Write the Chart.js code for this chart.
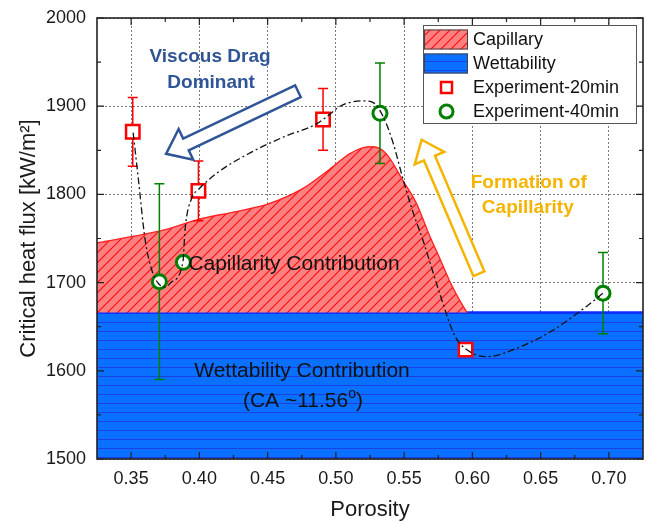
<!DOCTYPE html>
<html>
<head>
<meta charset="utf-8">
<script src="https://cdn.jsdelivr.net/npm/chart.js@4.4.0/dist/chart.umd.min.js"></script>
<style>
  html, body { margin: 0; padding: 0; background: #fff; }
</style>
</head>
<body>
<canvas id="chf" width="647" height="523"></canvas>
<script>
// axis ticks
const xTicks = [0.35, 0.40, 0.45, 0.50, 0.55, 0.60, 0.65, 0.70];
const yTicks = [1500, 1600, 1700, 1800, 1900, 2000];

// capillary contribution - upper edge of the hatched area (sits on the wettability level)
const capX = [0.325, 0.35, 0.375, 0.40, 0.425, 0.45, 0.475, 0.495, 0.51, 0.52, 0.527, 0.537, 0.549, 0.559, 0.569, 0.576, 0.583, 0.59, 0.596];
const capY = [1745, 1752, 1760, 1772, 1780, 1789, 1806, 1828, 1846, 1853, 1854, 1846, 1816, 1790, 1752, 1728, 1703, 1682, 1666];
const wetLevel = 1666;

// wettability contribution
const wetX = [0.325, 0.725];
const wetY = [1666, 1666];

// experiments
const exp20X = [0.3512, 0.3993, 0.4906, 0.595];
const exp20Y = [1871, 1804, 1885, 1624];
const exp20Err = [39, 34, 35, 4];

const exp40X = [0.3707, 0.3883, 0.5323, 0.6957];
const exp40Y = [1701, 1723, 1892, 1688];
const exp40Err = [111, 5, 57, 46];

// dash-dot guide curve
const fitX = [0.3515, 0.3554, 0.3603, 0.3652, 0.370, 0.3749, 0.3798, 0.388, 0.3895, 0.3944, 0.399, 0.4127, 0.4371, 0.4615, 0.4859, 0.4957, 0.503, 0.5127, 0.52, 0.5274, 0.5347, 0.542, 0.5494, 0.5567, 0.5638, 0.576, 0.587, 0.595, 0.6104, 0.6348, 0.659, 0.6836, 0.6957];
const fitY = [1870, 1816, 1748, 1714, 1699, 1695, 1701, 1724, 1760, 1796, 1805, 1824, 1847, 1865, 1880, 1891, 1900, 1905, 1906, 1904, 1888, 1858, 1816, 1779, 1748, 1688, 1640, 1625, 1616, 1627, 1646, 1673, 1688];

const FONT = "'Liberation Sans', Arial, sans-serif";
const BLUE_TXT = '#2F5597';
const ORANGE = '#F5B400';

const canvas = document.getElementById('chf');
const mainCtx = canvas.getContext('2d');

function pts(xs, ys) {
  return xs.map((x, i) => ({ x: x, y: ys[i] }));
}

function hatchPattern() {
  const c = document.createElement('canvas');
  c.width = 10; c.height = 10;
  const g = c.getContext('2d');
  g.fillStyle = '#ff8080';
  g.fillRect(0, 0, 10, 10);
  g.strokeStyle = '#ff0a0a';
  g.lineWidth = 1.1;
  g.beginPath();
  g.moveTo(-1, 11); g.lineTo(11, -1);
  g.moveTo(-1, 1); g.lineTo(1, -1);
  g.moveTo(9, 11); g.lineTo(11, 9);
  g.stroke();
  return mainCtx.createPattern(c, 'repeat');
}

function stripePattern() {
  const c = document.createElement('canvas');
  c.width = 4; c.height = 9;
  const g = c.getContext('2d');
  g.fillStyle = '#0a70ff';
  g.fillRect(0, 0, 4, 9);
  g.fillStyle = '#1c3fe6';
  g.fillRect(0, 7, 4, 1);
  return mainCtx.createPattern(c, 'repeat');
}

const redHatch = hatchPattern();
const blueStripe = stripePattern();

// error bars go under the markers
const errorBars = {
  id: 'errorBars',
  beforeDatasetDraw(chart, args) {
    const ds = chart.data.datasets[args.index];
    if (!ds.errors) return;
    const { ctx, scales: { x, y } } = chart;
    ctx.save();
    ctx.strokeStyle = ds.borderColor;
    ctx.lineWidth = 1.5;
    ds.data.forEach((p, i) => {
      const e = ds.errors[i];
      const px = x.getPixelForValue(p.x);
      const top = y.getPixelForValue(p.y + e);
      const bot = y.getPixelForValue(p.y - e);
      ctx.beginPath();
      ctx.moveTo(px, top); ctx.lineTo(px, bot);
      ctx.moveTo(px - 5, top); ctx.lineTo(px + 5, top);
      ctx.moveTo(px - 5, bot); ctx.lineTo(px + 5, bot);
      ctx.stroke();
    });
    ctx.restore();
  }
};

// frame with inward ticks on all four sides
const frame = {
  id: 'frame',
  afterDatasetsDraw(chart) {
    const { ctx, chartArea: a, scales: { x, y } } = chart;
    ctx.save();
    ctx.strokeStyle = '#222';
    ctx.lineWidth = 1.2;
    ctx.beginPath();
    const xMinor = xTicks.slice(0, -1).map(v => v + 0.025);
    const yMinor = yTicks.slice(0, -1).map(v => v + 50);
    xTicks.forEach(v => {
      const p = x.getPixelForValue(v);
      ctx.moveTo(p, a.bottom); ctx.lineTo(p, a.bottom - 7);
      ctx.moveTo(p, a.top); ctx.lineTo(p, a.top + 7);
    });
    xMinor.forEach(v => {
      const p = x.getPixelForValue(v);
      ctx.moveTo(p, a.bottom); ctx.lineTo(p, a.bottom - 4);
      ctx.moveTo(p, a.top); ctx.lineTo(p, a.top + 4);
    });
    yTicks.forEach(v => {
      const p = y.getPixelForValue(v);
      ctx.moveTo(a.left, p); ctx.lineTo(a.left + 7, p);
      ctx.moveTo(a.right, p); ctx.lineTo(a.right - 7, p);
    });
    yMinor.forEach(v => {
      const p = y.getPixelForValue(v);
      ctx.moveTo(a.left, p); ctx.lineTo(a.left + 4, p);
      ctx.moveTo(a.right, p); ctx.lineTo(a.right - 4, p);
    });
    ctx.stroke();
    ctx.lineWidth = 1.6;
    ctx.strokeRect(a.left, a.top, a.right - a.left, a.bottom - a.top);
    ctx.restore();
  }
};

function hollowArrow(ctx, x0, y0, x1, y1, shaft, head, headLen, color) {
  const len = Math.hypot(x1 - x0, y1 - y0);
  const ux = (x1 - x0) / len, uy = (y1 - y0) / len;
  const nx = -uy, ny = ux;
  const bx = x1 - ux * headLen, by = y1 - uy * headLen;
  const p = [
    [x0 + nx * shaft / 2, y0 + ny * shaft / 2],
    [bx + nx * shaft / 2, by + ny * shaft / 2],
    [bx + nx * head / 2, by + ny * head / 2],
    [x1, y1],
    [bx - nx * head / 2, by - ny * head / 2],
    [bx - nx * shaft / 2, by - ny * shaft / 2],
    [x0 - nx * shaft / 2, y0 - ny * shaft / 2]
  ];
  ctx.beginPath();
  p.forEach((q, i) => (i ? ctx.lineTo(q[0], q[1]) : ctx.moveTo(q[0], q[1])));
  ctx.closePath();
  ctx.fillStyle = '#fff';
  ctx.fill();
  ctx.strokeStyle = color;
  ctx.lineWidth = 2.5;
  ctx.lineJoin = 'miter';
  ctx.stroke();
}

const notes = {
  id: 'notes',
  afterDatasetsDraw(chart) {
    const { ctx, scales: { x, y } } = chart;
    const X = v => x.getPixelForValue(v);
    const Y = v => y.getPixelForValue(v);
    ctx.save();
    hollowArrow(ctx, X(0.4722), Y(1917), X(0.3756), Y(1846), 13, 34, 22, BLUE_TXT);
    hollowArrow(ctx, X(0.6048), Y(1710), X(0.5628), Y(1862), 12, 32, 20, ORANGE);

    ctx.textAlign = 'center';
    ctx.textBaseline = 'middle';
    ctx.font = 'bold 19px ' + FONT;
    ctx.fillStyle = BLUE_TXT;
    ctx.fillText('Viscous Drag', X(0.4078), Y(1956));
    ctx.fillText('Dominant', X(0.4086), Y(1927));
    ctx.fillStyle = ORANGE;
    ctx.fillText('Formation of', X(0.6413), Y(1813));
    ctx.fillText('Capillarity', X(0.6406), Y(1785));

    ctx.font = '21px ' + FONT;
    ctx.fillStyle = '#111';
    ctx.fillText('Capillarity Contribution', X(0.4693), Y(1721));
    ctx.fillText('Wettability Contribution', X(0.4752), Y(1599));

    // (CA ~11.56°) with a raised "o"
    const a = '(CA ~11.56', b = 'o', c = ')';
    const wa = ctx.measureText(a).width, wc = ctx.measureText(c).width;
    ctx.font = '14px ' + FONT;
    const wb = ctx.measureText(b).width;
    let left = X(0.4759) - (wa + wb + wc) / 2;
    const cy = Y(1565);
    ctx.textAlign = 'left';
    ctx.font = '21px ' + FONT;
    ctx.fillText(a, left, cy);
    ctx.font = '14px ' + FONT;
    ctx.fillText(b, left + wa, cy - 8);
    ctx.font = '21px ' + FONT;
    ctx.fillText(c, left + wa + wb, cy);
    ctx.restore();
  }
};

const boxLegend = {
  id: 'boxLegend',
  afterDraw(chart) {
    const ctx = chart.ctx;
    const bx = 423, by = 25, bw = 213, bh = 98;
    ctx.save();
    ctx.fillStyle = '#fff';
    ctx.fillRect(bx, by, bw, bh);
    ctx.strokeStyle = '#555';
    ctx.lineWidth = 1;
    ctx.strokeRect(bx + 0.5, by + 0.5, bw, bh);

    const rows = [39.5, 63.5, 87.5, 111.5];
    ctx.fillStyle = redHatch;
    ctx.fillRect(424, rows[0] - 10, 44, 20);
    ctx.strokeStyle = '#444';
    ctx.strokeRect(424.5, rows[0] - 9.5, 43, 19);
    ctx.fillStyle = blueStripe;
    ctx.fillRect(424, rows[1] - 10, 44, 20);
    ctx.strokeRect(424.5, rows[1] - 9.5, 43, 19);

    ctx.lineWidth = 2.5;
    ctx.strokeStyle = '#ff0000';
    ctx.fillStyle = '#fff';
    ctx.fillRect(441, rows[2] - 5.5, 11, 11);
    ctx.strokeRect(441, rows[2] - 5.5, 11, 11);
    ctx.strokeStyle = '#008000';
    ctx.lineWidth = 3;
    ctx.beginPath();
    ctx.arc(446.5, rows[3], 6.5, 0, Math.PI * 2);
    ctx.stroke();

    ctx.fillStyle = '#111';
    ctx.font = '18px ' + FONT;
    ctx.textAlign = 'left';
    ctx.textBaseline = 'middle';
    ['Capillary', 'Wettability', 'Experiment-20min', 'Experiment-40min'].forEach((t, i) => {
      ctx.fillText(t, 473, rows[i] + 1);
    });
    ctx.restore();
  }
};

new Chart(canvas, {
  type: 'scatter',
  data: {
    datasets: [
      {
        label: 'Wettability',
        data: pts(wetX, wetY),
        showLine: true,
        fill: 'start',
        backgroundColor: blueStripe,
        borderColor: '#0a2cff',
        borderWidth: 2.5,
        pointRadius: 0,
        order: 6
      },
      {
        label: 'Capillary',
        data: pts(capX, capY),
        showLine: true,
        fill: { value: wetLevel },
        backgroundColor: redHatch,
        borderColor: '#ff2020',
        borderWidth: 1.3,
        pointRadius: 0,
        cubicInterpolationMode: 'monotone',
        order: 5
      },
      {
        label: 'Experiment-20min',
        data: pts(exp20X, exp20Y),
        errors: exp20Err,
        pointStyle: 'rect',
        pointRadius: 9.5,
        borderWidth: 2.5,
        borderColor: '#ff0000',
        backgroundColor: '#ffffff',
        order: 3
      },
      {
        label: 'Experiment-40min',
        data: pts(exp40X, exp40Y),
        errors: exp40Err,
        pointStyle: 'circle',
        pointRadius: 7,
        borderWidth: 3,
        borderColor: '#008000',
        backgroundColor: '#ffffff',
        order: 2
      },
      {
        label: 'trend',
        data: pts(fitX, fitY),
        showLine: true,
        fill: false,
        borderColor: '#111',
        borderWidth: 1.3,
        borderDash: [7, 3, 2, 3],
        pointRadius: 0,
        cubicInterpolationMode: 'monotone',
        order: 1
      }
    ]
  },
  options: {
    responsive: false,
    animation: false,
    layout: { autoPadding: false, padding: { top: 18, right: 4, left: 0, bottom: 0 } },
    plugins: {
      legend: { display: false },
      tooltip: { enabled: false }
    },
    scales: {
      x: {
        type: 'linear',
        min: 0.325,
        max: 0.725,
        afterBuildTicks: s => { s.ticks = xTicks.map(v => ({ value: v })); },
        afterFit: s => { s.height = 64; s.paddingLeft = 0; s.paddingRight = 0; },
        ticks: {
          callback: v => Number(v).toFixed(2),
          font: { family: FONT, size: 18 },
          color: '#1a1a1a',
          padding: 9,
          maxRotation: 0,
          autoSkip: false
        },
        grid: { color: '#7a7a7a', lineWidth: 1, drawTicks: false },
        border: { display: false, dash: [2, 2] },
        title: {
          display: true,
          text: 'Porosity',
          font: { family: FONT, size: 22 },
          color: '#1a1a1a',
          padding: { top: 0, bottom: 0 }
        }
      },
      y: {
        min: 1500,
        max: 2000,
        afterBuildTicks: s => { s.ticks = yTicks.map(v => ({ value: v })); },
        afterFit: s => { s.width = 97; s.paddingTop = 0; s.paddingBottom = 0; },
        ticks: {
          callback: v => String(v),
          font: { family: FONT, size: 18 },
          color: '#1a1a1a',
          padding: 11
        },
        grid: { color: '#7a7a7a', lineWidth: 1, drawTicks: false },
        border: { display: false, dash: [2, 2] },
        title: {
          display: true,
          text: 'Critical heat flux [kW/m²]',
          font: { family: FONT, size: 22 },
          color: '#1a1a1a',
          padding: { top: 16, bottom: 0 }
        }
      }
    }
  },
  plugins: [errorBars, frame, notes, boxLegend]
});
</script>
</body>
</html>
